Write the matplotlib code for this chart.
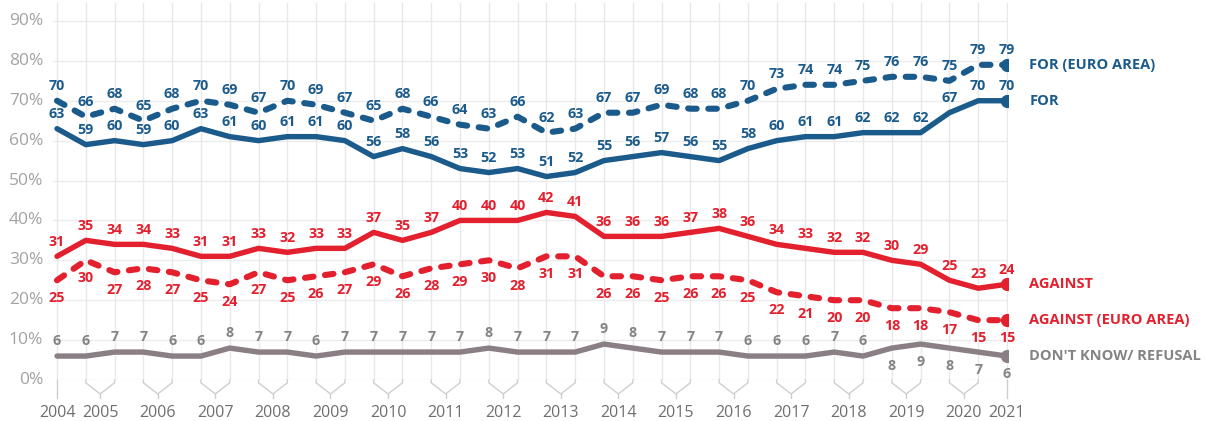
import matplotlib
matplotlib.use("Agg")
import matplotlib.pyplot as plt

plt.rcParams['font.family'] = ['Open Sans', 'DejaVu Sans']

# Survey waves: spring/autumn from 2005 to 2020, single waves in 2004 and 2021
years = [2004] + [y for y in range(2005, 2021)] + [2021]

for_euro_area = [70, 66, 68, 65, 68, 70, 69, 67, 70, 69, 67, 65, 68, 66, 64, 63, 66,
                 62, 63, 67, 67, 69, 68, 68, 70, 73, 74, 74, 75, 76, 76, 75, 79, 79]
for_all = [63, 59, 60, 59, 60, 63, 61, 60, 61, 61, 60, 56, 58, 56, 53, 52, 53,
           51, 52, 55, 56, 57, 56, 55, 58, 60, 61, 61, 62, 62, 62, 67, 70, 70]
against_all = [31, 35, 34, 34, 33, 31, 31, 33, 32, 33, 33, 37, 35, 37, 40, 40, 40,
               42, 41, 36, 36, 36, 37, 38, 36, 34, 33, 32, 32, 30, 29, 25, 23, 24]
against_euro_area = [25, 30, 27, 28, 27, 25, 24, 27, 25, 26, 27, 29, 26, 28, 29, 30, 28,
                     31, 31, 26, 26, 25, 26, 26, 25, 22, 21, 20, 20, 18, 18, 17, 15, 15]
dont_know = [6, 6, 7, 7, 6, 6, 8, 7, 7, 6, 7, 7, 7, 7, 7, 8, 7,
             7, 7, 9, 8, 7, 7, 7, 6, 6, 6, 7, 6, 8, 9, 8, 7, 6]

series_names = ["FOR (EURO AREA)", "FOR", "AGAINST", "AGAINST (EURO AREA)",
                "DON'T KNOW/ REFUSAL"]

BLUE = "#1b5b8b"
RED = "#e3202e"
GREY = "#8b7f86"
GREY_TXT = "#848484"

n = len(for_all)
x = list(range(n))

fig = plt.figure(figsize=(12.05, 4.21), dpi=100)
ax = fig.add_axes([53 / 1205, 41 / 421, 955 / 1205, 377 / 421])
ax.set_xlim(-0.139, 33.035)
ax.set_ylim(0, 94.5)
for s in ax.spines.values():
    s.set_visible(False)
ax.set_xticks([])
ax.set_yticks([])

# Grid
for v in range(0, 100, 10):
    ax.axhline(v, color="#ececec", lw=1, zorder=0)
    ax.text(-0.48, v, f"{v}%", ha="right", va="center", fontsize=12.5,
            color="#a3a3a3", clip_on=False)
for i in x:
    ax.plot([i, i], [0, 94.5], color="#e8e8e8", lw=1, zorder=0)

# Year brackets below the axis
bcol = "#cfcfcf"
kw = dict(color=bcol, lw=1, clip_on=False, zorder=0)
ycol = "#6e6e6e"
ax.plot([0, 0], [0, -4.5], **kw)
ax.plot([n - 1, n - 1], [0, -4.5], **kw)
ax.text(0, -8.2, str(years[0]), ha="center", va="center", fontsize=11.5, color=ycol)
ax.text(n - 1, -8.2, str(years[-1]), ha="center", va="center", fontsize=11.5, color=ycol)
for k, yr in enumerate(years[1:-1]):
    a, b = 2 * k + 1, 2 * k + 2
    m = (a + b) / 2
    ax.plot([a, a, m, b, b], [0, -0.7, -3.5, -0.7, 0], **kw)
    ax.plot([m, m], [-3.5, -4.5], **kw)
    ax.text(m, -8.2, str(yr), ha="center", va="center", fontsize=11.5, color=ycol)

LW = 3.9
LW_DASH = 4.4


def draw(vals, color, dashed, label_pos, name, txtcolor=None):
    txtcolor = txtcolor or color
    line, = ax.plot(x, vals, color=color, lw=LW_DASH if dashed else LW,
                    solid_capstyle="round", solid_joinstyle="round",
                    dash_capstyle="round", zorder=3)
    if dashed:
        line.set_dashes((1.4, 1.9))
    ax.plot([x[-1]], [vals[-1]], "o", color=color, ms=8.5, zorder=4)
    for i, v in enumerate(vals):
        pos = label_pos(i)
        if pos == "above":
            ax.annotate(str(v), (i, v), xytext=(0, 5.5), textcoords="offset points",
                        ha="center", va="bottom", fontsize=10.3, fontweight="bold",
                        color=txtcolor, zorder=5)
        else:
            ax.annotate(str(v), (i, v), xytext=(0, -8), textcoords="offset points",
                        ha="center", va="top", fontsize=10.3, fontweight="bold",
                        color=txtcolor, zorder=5)
    ax.annotate(name, (x[-1], vals[-1]), xytext=(16, 0), textcoords="offset points",
                ha="left", va="center", fontsize=10.5, fontweight="bold",
                color=txtcolor, annotation_clip=False)


draw(for_euro_area, BLUE, True, lambda i: "above", series_names[0])
draw(for_all, BLUE, False, lambda i: "above", series_names[1])
draw(against_all, RED, False, lambda i: "above", series_names[2])
draw(against_euro_area, RED, True, lambda i: "below", series_names[3])
draw(dont_know, GREY, False, lambda i: "above" if i < 29 else "below",
     series_names[4], txtcolor=GREY_TXT)

fig.savefig("out.png", dpi=100)
